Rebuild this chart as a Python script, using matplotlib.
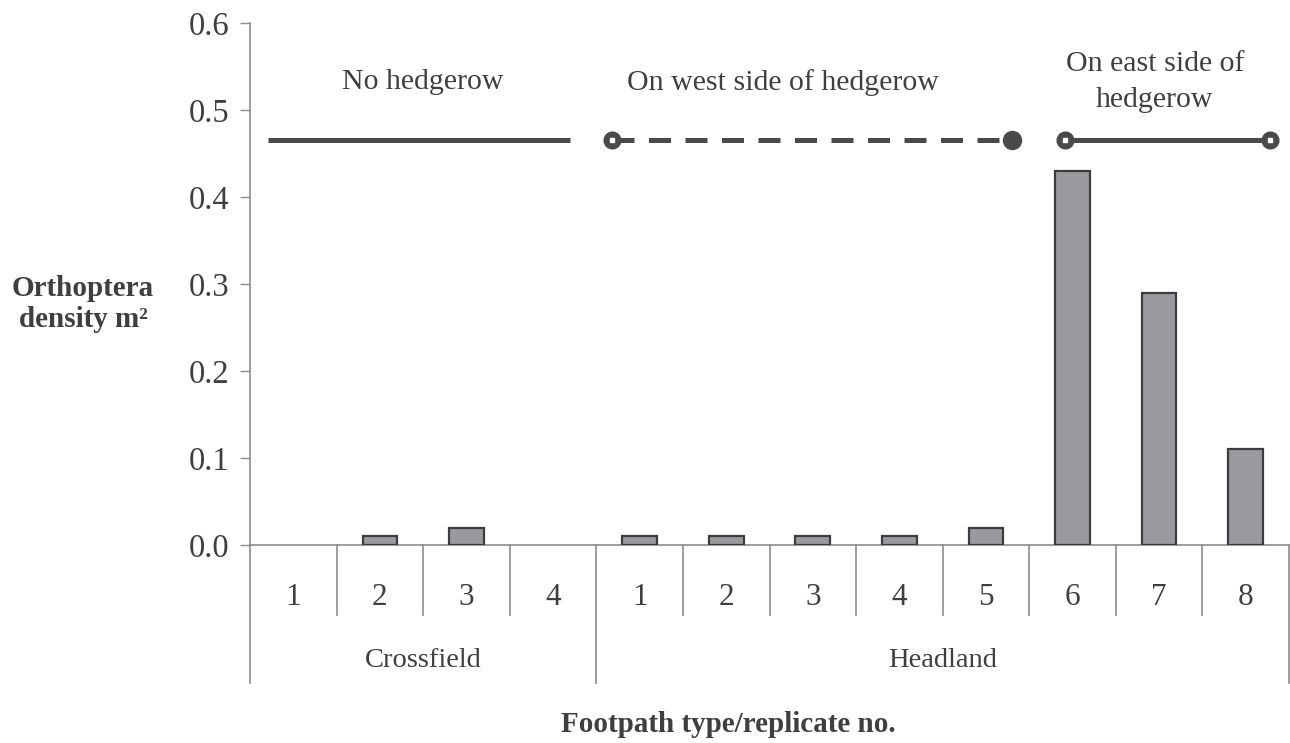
import matplotlib
matplotlib.use("Agg")
import matplotlib.pyplot as plt
import numpy as np

# ---- data ----
groups = ["Crossfield", "Headland"]
group_sizes = [4, 8]
replicate_labels = ["1", "2", "3", "4", "1", "2", "3", "4", "5", "6", "7", "8"]
density = [0.0, 0.01, 0.02, 0.0, 0.01, 0.01, 0.01, 0.01, 0.02, 0.43, 0.29, 0.11]
yticks = [0.0, 0.1, 0.2, 0.3, 0.4, 0.5, 0.6]
zone_labels = ["No hedgerow", "On west side of hedgerow", "On east side of\nhedgerow"]

plt.rcParams["font.family"] = ["Liberation Serif", "DejaVu Serif"]
TXT = "#3f3f3f"
LINE = "#4a4a4c"
SPINE = "#8c8c8c"

fig = plt.figure(figsize=(12.9, 7.43), dpi=100)
ax = fig.add_axes([250/1290, 1-545/743, (1289-250)/1290, (545-23)/743])

x = np.arange(len(density))
dens = np.array(density)
nz = dens > 0
ax.bar(x[nz], dens[nz], width=0.4, color="#9a9a9e", edgecolor="#3c3c3c", linewidth=1.6, zorder=3)

ax.set_xlim(-0.5, len(density) - 0.5)
ax.set_ylim(0, 0.6)
ax.set_yticks(yticks)
ax.set_yticklabels([f"{v:.1f}" for v in yticks])
ax.tick_params(axis="y", length=7, width=1, color=SPINE, pad=8, labelsize=23.5, labelcolor=TXT)
ax.set_xticks([])
for s in ["top", "right"]:
    ax.spines[s].set_visible(False)
for s in ["left", "bottom"]:
    ax.spines[s].set_color(SPINE)
    ax.spines[s].set_linewidth(1.2)

# category axis table below
trans = ax.get_xaxis_transform()
rep_bottom = -0.135
grp_bottom = -0.265
for i, lab in enumerate(replicate_labels):
    ax.text(i, -0.1, lab, transform=trans, ha="center", va="center", fontsize=22.5, color=TXT)
bounds = np.cumsum([0] + group_sizes) - 0.5
for i in range(len(density) + 1):
    b = i - 0.5
    bottom = grp_bottom if b in bounds else rep_bottom
    ax.plot([b, b], [0, bottom], transform=trans, color=SPINE, lw=1.2, clip_on=False)
for g, (lo, hi) in zip(groups, zip(bounds[:-1], bounds[1:])):
    ax.text((lo + hi) / 2, -0.222, g, transform=trans, ha="center", va="center", fontsize=20.5, color=TXT)

# zone indicator lines
yl = 0.465
ax.plot([-0.29, 3.2], [yl, yl], color=LINE, lw=3.6, solid_capstyle="butt", zorder=4)
ax.plot([3.68, 8.3], [yl, yl], color=LINE, lw=3.6, dashes=(4.4, 2.9), zorder=4)
ax.plot([3.68], [yl], "o", color=LINE, ms=12, zorder=5)
ax.plot([8.3], [yl], "o", color=LINE, ms=13, zorder=5)
ax.plot([3.68], [yl], "s", color="white", ms=3.5, zorder=6)
ax.plot([8.91, 11.28], [yl, yl], color=LINE, lw=3.6, solid_capstyle="butt", zorder=4)
ax.plot([8.91, 11.28], [yl, yl], "o", color=LINE, ms=12, zorder=5)
ax.plot([8.91, 11.28], [yl, yl], "s", color="white", ms=3.5, zorder=6)

ax.text(1.5, 0.532, zone_labels[0], ha="center", va="center", fontsize=21.5, color=TXT)
ax.text(5.65, 0.532, zone_labels[1], ha="center", va="center", fontsize=21.5, color=TXT)
ax.text(9.95, 0.532, zone_labels[2], ha="center", va="center", fontsize=21.5, color=TXT, linespacing=1.5)

fig.text(83/1290, 1-304/743, "Orthoptera\ndensity m²", ha="center", va="center",
         fontsize=21, fontweight="bold", color=TXT, linespacing=1.15)
fig.text(728/1290, 1-724/743, "Footpath type/replicate no.", ha="center", va="center",
         fontsize=21, fontweight="bold", color=TXT)

fig.savefig("out.png", dpi=100, facecolor="white")
